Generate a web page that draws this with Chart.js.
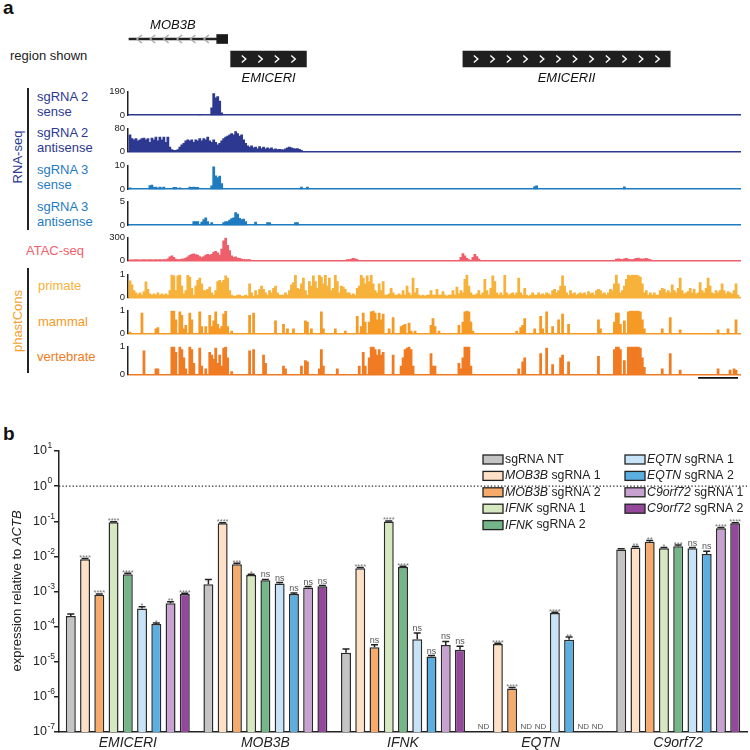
<!DOCTYPE html>
<html><head><meta charset="utf-8">
<script src="https://cdn.jsdelivr.net/npm/chart.js@4.4.1/dist/chart.umd.min.js"></script>
<style>
html,body{margin:0;padding:0;background:#fff;}
body{width:750px;height:750px;position:relative;overflow:hidden;font-family:"Liberation Sans",Arial,Helvetica,sans-serif;color:#222;}
canvas{position:absolute;left:0;display:block;}
.t{position:absolute;white-space:nowrap;font-size:13px;line-height:13px;}
.rot{position:absolute;white-space:nowrap;font-size:13px;line-height:13px;transform:translate(-50%,-50%) rotate(-90deg);}
.vl{position:absolute;width:2px;background:#222;}
</style></head><body>
<div id="labels"></div>
<canvas id="genes" width="750" height="75" style="top:15px"></canvas>
<div id="tracks"></div>
<canvas id="bars" width="750" height="310" style="top:440px"></canvas>
<script>
// ======================= PANEL b DATA =======================
const genes = ['EMICERI', 'MOB3B', 'IFNK', 'EQTN', 'C9orf72'];
const sgTarget = ['', 'MOB3B', 'MOB3B', 'IFNK', 'IFNK', 'EQTN', 'EQTN', 'C9orf72', 'C9orf72'];
const sgSuffix = ['sgRNA NT', 'sgRNA 1', 'sgRNA 2', 'sgRNA 1', 'sgRNA 2', 'sgRNA 1', 'sgRNA 2', 'sgRNA 1', 'sgRNA 2'];
const sgColors = ['#c4c4c4', '#fde0c5', '#f7ab6a', '#d5e8c0', '#74b688', '#c6e3f7', '#5aafe0', '#c7a2d0', '#93489c'];

// expression relative to ACTB, per sgRNA, in gene order (null = ND)
const exprNT      = [2.0e-4, 1.6e-3, 1.8e-5, null,    1.58e-2];
const exprMOB3B1  = [8.3e-3, 8.7e-2, 4.6e-3, 3.2e-5,  1.8e-2];
const exprMOB3B2  = [8.1e-4, 6.0e-3, 2.6e-5, 1.74e-6, 2.6e-2];
const exprIFNK1   = [9.3e-2, 2.95e-3, 9.8e-2, null,   1.7e-2];
const exprIFNK2   = [3.1e-3, 2.1e-3, 5.0e-3, null,    1.95e-2];
const exprEQTN1   = [3.3e-4, 1.7e-3, 4.4e-5, 2.45e-4, 1.7e-2];
const exprEQTN2   = [1.18e-4, 8.5e-4, 1.4e-5, 4.2e-5, 1.17e-2];
const exprC9orf1  = [4.6e-4, 1.3e-3, 3.0e-5, null,    6.3e-2];
const exprC9orf2  = [8.5e-4, 1.4e-3, 2.2e-5, null,    8.7e-2];

// upper error (SEM)
const errNT      = [3e-5, 6e-4, 5e-6, null, 6e-4];
const errMOB3B1  = [4e-4, 4e-3, 2e-4, 1.5e-6, 1.2e-3];
const errMOB3B2  = [4e-5, 4e-4, 4.5e-6, 1e-7, 2.5e-3];
const errIFNK1   = [4e-3, 1.5e-4, 4e-3, null, 8e-4];
const errIFNK2   = [2e-4, 1e-4, 2.5e-4, null, 1.5e-3];
const errEQTN1   = [4e-5, 1e-4, 2.2e-5, 1.2e-5, 8e-4];
const errEQTN2   = [8e-6, 5e-5, 1e-6, 8.5e-6, 2.4e-3];
const errC9orf1  = [5e-5, 8e-5, 8e-6, null, 3e-3];
const errC9orf2  = [4e-5, 7e-5, 5.5e-6, null, 4e-3];

// significance vs sgRNA NT
const sigNT      = ['', '', '', '', ''];
const sigMOB3B1  = ['****', '****', '****', '****', '**'];
const sigMOB3B2  = ['****', '***', 'ns', '****', '**'];
const sigIFNK1   = ['****', '*', '****', '', '*'];
const sigIFNK2   = ['****', 'ns', '****', '', '***'];
const sigEQTN1   = ['*', 'ns', 'ns', '****', 'ns'];
const sigEQTN2   = ['*', 'ns', 'ns', '**', 'ns'];
const sigC9orf1  = ['**', 'ns', 'ns', '', '****'];
const sigC9orf2  = ['****', 'ns', 'ns', '', '****'];

const yExponents = [-7, -6, -5, -4, -3, -2, -1, 0, 1];
const refLineValue = 1;
const ndLabel = 'ND';

// ======================= PANEL a DATA =======================
// positions in 100-bp bins across the shown region; runs = [startBin, v0, v1, ...]
const trackNames = ['sgRNA 2 sense', 'sgRNA 2 antisense', 'sgRNA 3 sense', 'sgRNA 3 antisense', 'ATAC-seq', 'primate', 'mammal', 'vertebrate'];
const trackMax = [190, 80, 10, 5, 300, 1, 1, 1];

const sense2Runs = [[35, 5], [41, 60, 175, 140, 150, 115, 20]];
const anti2Runs = [[0,
  58,45,41,45,37,41,45,47,41,45, 32,47,41,50,37,50,41,50,32,50,
  15,6,3,3,6,15,23,28,37,41, 37,41,32,41,37,45,37,45,41,50,
  37,32,41,32,23,28,37,45,50,54, 58,63,58,70,63,54,58,41,28,19,
  15,19,12,15,9,17,10,15,9,12, 9,12,6,9,6,7,6,5,9,12,
  15,12,10,9,10,7,3]];
const sense3Runs = [[0, 0.6], [10, 1.6, 1.8, 0.8, 0.9, 0.5, 0.9, 0.6, 0.9], [22, 0.8, 0.8], [25, 0.6],
  [30, 0.9, 0.8, 0.9, 0.8, 0.8], [41, 1.5, 9.5, 5.7, 5.0, 5.6, 2.4], [86, 0.9], [89, 0.9], [203, 1.2, 1.5], [248, 1.0]];
const anti3Runs = [[32, 0.8, 0.8, 0.8], [36, 0.7, 1.2, 1.6, 0.8], [41, 0.6],
  [47, 0.6, 0.8, 0.8, 1.1, 1.4, 1.6, 2.7, 2.4, 1.5, 1.2, 1.3, 0.8], [63, 0.7], [69, 0.6, 0.6], [83, 0.6, 0.6]];
const atacRuns = [[0,
  6,7,6,8,6,7,6,8,7,6,8,7,6,9,7,8,7,9,10,
  20,45,60,40,15,10,10,15,20,30,45,65,80,85,75,70,50,35,50,70,80,70,80,110,120,100,70,150,260,300,200,130,60,40,45,30,25,15,10,10,10,8],
  [109, 8, 10, 15, 25, 18, 8], [166, 40, 90, 60, 25, 10], [172, 40, 80, 50, 15],
  [244, 15, 20, 15, 10, 20, 25, 15, 10, 10, 15, 25, 30, 20, 15, 20, 25, 15, 10]];
const primateRuns = [[0,
  0.73,0.55,0.3,0.2,0.12,0.2,0.1,0.25,0.68,0.35, 0.15,0.1,0.15,0.1,0.2,0.1,0.15,0.1,0.15,0.1,
  0.3,1.0,0.95,0.3,0.95,1.0,0.5,0.15,0.3,0.97, 0.9,0.4,0.1,0.5,0.75,0.85,0.6,0.3,0.3,0.35,
  0.45,0.2,0.1,0.3,0.7,0.75,0.65,0.75,0.95,0.85, 0.3,0.1,0.05,0.05,0.1,0.1,0.05,0.05,0.1,0.05,
  0.6,0.2,0.05,0.3,0.1,0.35,0.5,0.35,0.2,0.1, 0.3,0.2,0.4,0.5,0.2,0.1,0.1,0.1,0.2,0.1,
  0.3,0.55,0.65,0.97,0.4,0.35,0.6,0.85,0.3,0.1, 0.7,0.5,0.95,0.7,0.4,0.97,0.9,0.6,0.97,0.5,
  0.85,0.3,0.4,0.97,0.7,0.2,0.5,0.45,0.35,0.2, 0.2,0.1,0.15,0.1,0.4,0.5,0.97,0.85,0.6,0.95,
  0.7,0.97,0.6,0.3,0.2,0.6,0.3,0.7,0.1,0.1, 0.15,0.4,0.2,0.1,0.1,0.15,0.1,0.3,0.1,0.5,
  0.2,0.1,0.85,0.2,0.4,0.1,0.05,0.1,0.05,0.1, 0.1,0.3,0.1,0.1,0.35,0.1,0.1,0.25,0.1,0.05,
  0.1,0.1,0.3,0.1,0.45,0.15,0.3,0.2,0.8,1.0, 0.5,0.2,0.1,0.1,0.15,0.3,0.1,0.2,0.8,0.3,
  0.1,0.4,0.95,0.7,0.2,0.1,0.2,0.1,0.97,0.2, 0.1,0.15,0.2,0.1,0.2,0.85,0.2,0.1,0.4,0.1,
  0.05,0.1,0.2,0.1,0.1,0.2,0.1,0.15,0.1,0.2, 0.15,0.1,0.3,0.35,0.2,0.3,0.5,0.95,0.5,0.2,
  0.1,0.3,0.15,0.2,0.1,0.15,0.2,0.15,0.2,0.1, 0.25,0.15,0.2,0.1,0.3,0.35,0.3,0.15,0.2,0.1,
  0.2,0.35,0.3,0.6,1.0,0.6,0.2,0.3,0.5,0.8, 1.0,0.95,1.0,0.97,1.0,0.95,0.9,0.6,0.2,0.3,
  0.1,0.2,0.1,0.2,0.1,0.1,0.3,0.4,0.35,0.2, 0.3,0.2,0.55,0.3,0.2,0.4,0.85,0.3,0.15,0.2,
  0.25,0.4,0.2,0.35,0.15,0.2,0.65,0.3,0.2,0.4, 0.85,0.5,0.2,0.15,0.3,0.2,0.3,0.6,0.3,0.15,
  0.25,0.2,0.15,0.3,0.6,0.1]];
const mammalRuns = [[0,0.05],[6,0.9],[13,0.2,0.25],[21,1.0,1.0,0.6],[25,0.95,0.8,0.2,0.35],[30,0.9,0.6],[35,0.95,0.3],[38,0.3],
  [40,0.8,0.3,0.55,0.95,0.4,0.2,0.3,0.85,0.97,0.3],[51,0.1],[60,0.8],[62,0.9],[73,0.55],[77,0.4],[79,0.2],[82,0.2],[88,0.55,0.5],[91,0.2],
  [96,0.95,0.2],[103,0.2],[108,0.1],[114,0.75],[116,0.3,0.9,0.5],[120,0.5,0.95,1.0,0.9,0.6,0.9,0.6,0.85],[130,0.2],[132,0.7],
  [136,0.3,0.35,0.4],[140,0.45,0.1],[143,0.1],[151,0.35,0.65,0.3],[155,0.1],[165,0.35],[167,0.5,0.95,1.0,0.95,0.5,0.1],[194,0.1],
  [196,0.25,0.35,0.65],[203,0.2],[206,0.75,0.2],[209,0.95],[212,0.3],[215,0.6],[217,0.85],[220,0.4],[235,0.6,0.2],
  [243,0.5,0.9,0.9,0.4],[248,0.55],[250,0.95,1.0,1.0,0.97,1.0,1.0,0.95,0.6,0.2],[267,0.2],[271,0.7],[276,0.15],[295,0.15],[300,0.2],[304,0.6]];
const vertebrateRuns = [[7,0.85],[13,0.2,0.2],[21,1.0,1.0,0.8],[25,1.0,0.9,0.6,0.2],[30,1.0,0.9,0.4],[35,0.95,0.3],[38,0.2],
  [40,0.8,0.7,0.55,0.95,0.4,0.7,0.3,0.95,1.0,0.6],[51,0.1],[60,0.85],[62,0.9],[67,0.7,0.4],[77,0.3,0.2],[86,0.3],[88,0.5,0.45],
  [95,0.2,0.9,0.3],[104,0.2],[115,0.3],[117,0.8,0.3],[120,0.6,1.0,1.0,0.9,0.7,0.9,0.7,0.8],[132,0.7],[136,0.3,0.6,0.9,0.95,1.0,0.9,0.3],
  [151,0.75,0.3,0.3],[165,0.4,0.2,0.6,1.0,1.0,1.0,0.3],[195,0.2],[197,0.45,0.6],[206,0.75],[209,0.95],[212,0.35],[216,0.6,0.7],[220,0.45],
  [235,0.65],[243,0.9,1.0,1.0,0.9],[248,0.5],[250,1.0,1.0,1.0,1.0,1.0,1.0,0.95,0.6,0.25],[267,0.2],[271,0.75],[276,0.15],[295,0.2],
  [301,0.15],[303,0.2,0.15]];

// gene models (bins)
const geneNames = ['MOB3B', 'EMICERI', 'EMICERII'];
const geneRowOf = ['MOB3B', 'EMICER', 'EMICER'];
const geneStart = [-0.5, 50.5, 167];
const geneEnd = [43.5, 88.5, 271];
const geneStrand = ['-', '+', '+'];
const mob3bExon = [43.5, 49];
const geneRows = ['MOB3B', 'EMICER'];
const regionMin = -1, regionMax = 306;
const scaleBarStart = 285, scaleBarLength = 20; // 2 kb

// ======================= RENDER =======================
const FF = '"Liberation Sans", Arial, Helvetica, sans-serif';
Chart.defaults.font.family = FF;
Chart.defaults.color = '#222';
Chart.defaults.animation = false;

// ---- static labels of panel a / b (text) ----
const lab = document.getElementById('labels');
function addText(txt, left, cy, color, opts) {
  opts = opts || {};
  const d = document.createElement('div');
  d.className = opts.rot ? 'rot' : 't';
  d.textContent = txt;
  const size = opts.size || 13;
  d.style.fontSize = size + 'px'; d.style.lineHeight = size + 'px';
  d.style.color = color || '#222';
  if (opts.bold) d.style.fontWeight = 'bold';
  if (opts.rot) { d.style.left = left + 'px'; d.style.top = cy + 'px'; }
  else { d.style.left = left + 'px'; d.style.top = (cy - 0.52 * size) + 'px'; }
  lab.appendChild(d);
}
function addVLine(x, y0, y1) {
  const d = document.createElement('div'); d.className = 'vl';
  d.style.left = (x - 1) + 'px'; d.style.top = y0 + 'px'; d.style.height = (y1 - y0) + 'px';
  lab.appendChild(d);
}
const navy = '#2d3990', blue = '#1f7bc0', atacCol = '#ef5f6b', primCol = '#f6b23a', mamCol = '#f59a25', vertCol = '#f07b22';
addText('a', 3, 8, '#111', {size: 19, bold: true});
addText('b', 3, 434, '#111', {size: 19, bold: true});
addText('region shown', 10, 56, '#222');
addText('RNA-seq', 17, 157, navy, {rot: true});
addVLine(28, 88, 230);
addText('sgRNA 2', 37, 97, navy); addText('sense', 37, 112, navy);
addText('sgRNA 2', 37, 133, navy); addText('antisense', 37, 148, navy);
addText('sgRNA 3', 37, 170, blue); addText('sense', 37, 184.5, blue);
addText('sgRNA 3', 37, 207, blue); addText('antisense', 37, 221.5, blue);
addText('ATAC-seq', 26, 250.5, atacCol);
addText('phastCons', 17, 321, '#f5a02e', {rot: true});
addVLine(28, 268, 373);
addText('primate', 38, 285.5, primCol);
addText('mammal', 38, 321.5, mamCol);
addText('vertebrate', 37, 357, vertCol);

// ---- gene model chart ----
const geneDeco = {
  id: 'geneDeco',
  afterDatasetsDraw(chart) {
    const ctx = chart.ctx, xs = chart.scales.x, ys = chart.scales.y;
    geneNames.forEach((g, k) => {
      const x0 = xs.getPixelForValue(geneStart[k]), x1 = xs.getPixelForValue(geneEnd[k]);
      const yc = ys.getPixelForValue(geneRows.indexOf(geneRowOf[k]));
      const minus = geneStrand[k] === '-';
      const sp = minus ? 13.4 : 16.5;
      const len = x1 - x0, n = Math.floor(len / sp);
      const s0 = x0 + (len - (n - 1) * sp) / 2;
      ctx.save();
      ctx.lineWidth = 1.4;
      ctx.strokeStyle = minus ? '#a8a8a8' : '#ffffff';
      for (let j = 0; j < n; j++) {
        const cx = s0 + j * sp;
        ctx.beginPath();
        if (minus) { ctx.moveTo(cx + 2.5, yc - 4); ctx.lineTo(cx - 2.5, yc); ctx.lineTo(cx + 2.5, yc + 4); }
        else { ctx.moveTo(cx - 2, yc - 3.5); ctx.lineTo(cx + 2, yc); ctx.lineTo(cx - 2, yc + 3.5); }
        ctx.stroke();
      }
      ctx.fillStyle = '#111';
      ctx.font = 'italic 13px ' + FF;
      ctx.textAlign = 'center'; ctx.textBaseline = 'middle';
      const ly = minus ? yc - 14 : yc + 19.5;
      ctx.fillText(g, (x0 + x1) / 2, ly);
      ctx.restore();
    });
  }
};
new Chart(document.getElementById('genes'), {
  type: 'bar',
  data: {
    labels: geneRows,
    datasets: [
      {data: [{x: [geneStart[0], geneEnd[0]], y: geneRowOf[0]}], backgroundColor: '#222', barThickness: 1.6, grouped: false},
      {data: [{x: mob3bExon, y: geneRowOf[0]}], backgroundColor: '#1a1a1a', barThickness: 9, grouped: false},
      {data: [{x: [geneStart[1], geneEnd[1]], y: geneRowOf[1]}, {x: [geneStart[2], geneEnd[2]], y: geneRowOf[2]}], backgroundColor: '#1f1f1f', barThickness: 16, grouped: false}
    ]
  },
  options: {
    indexAxis: 'y', responsive: false, animation: false,
    layout: {padding: {left: 128, right: 10, top: 14, bottom: 21}},
    plugins: {legend: {display: false}, tooltip: {enabled: false}},
    scales: {
      x: {type: 'linear', min: regionMin, max: regionMax, display: false},
      y: {type: 'category', labels: geneRows, display: false, offset: true}
    }
  },
  plugins: [geneDeco]
});

// ---- track charts ----
function expandRuns(runs) {
  const pts = [];
  runs.forEach(r => { for (let j = 1; j < r.length; j++) pts.push({x: r[0] + j - 1, y: r[j]}); });
  return pts;
}
const trackRuns = [sense2Runs, anti2Runs, sense3Runs, anti3Runs, atacRuns, primateRuns, mammalRuns, vertebrateRuns];
const trackColors = [navy, navy, blue, blue, atacCol, primCol, mamCol, vertCol];
const trackTop = [89, 126, 162.5, 199, 235, 271.5, 307.5, 343.5];
const trackBase = [121, 157, 194, 230.5, 266, 302.5, 338, 374];
const scaleBarPlugin = {
  id: 'scaleBar',
  afterDraw(chart) {
    const xs = chart.scales.x, ctx = chart.ctx, y = chart.chartArea.bottom + 3.5;
    ctx.save(); ctx.strokeStyle = '#111'; ctx.lineWidth = 1.8;
    ctx.beginPath(); ctx.moveTo(xs.getPixelForValue(scaleBarStart), y); ctx.lineTo(xs.getPixelForValue(scaleBarStart + scaleBarLength), y); ctx.stroke();
    ctx.restore();
  }
};
const tracksDiv = document.getElementById('tracks');
trackRuns.forEach((runs, k) => {
  const last = k === trackRuns.length - 1;
  const padB = last ? 8 : 3;
  const cv = document.createElement('canvas');
  const top = trackTop[k] - 6;
  const h = Math.round(trackBase[k] - trackTop[k] + 6 + padB);
  cv.width = 750; cv.height = h; cv.style.top = top + 'px';
  tracksDiv.appendChild(cv);
  const max = trackMax[k];
  new Chart(cv, {
    type: 'bar',
    data: {datasets: [{label: trackNames[k], data: expandRuns(runs), backgroundColor: trackColors[k], borderWidth: 0, barThickness: 2.1, grouped: false}]},
    options: {
      responsive: false, animation: false,
      layout: {padding: {left: 0, right: 10, top: 6, bottom: padB}},
      plugins: {legend: {display: false}, tooltip: {enabled: false}},
      scales: {
        x: {type: 'linear', min: regionMin, max: regionMax, offset: false,
            ticks: {display: false}, grid: {display: false, drawTicks: false},
            border: {display: true, color: trackColors[k], width: 1.6},
            afterFit(s) { s.height = 0; }},
        y: {type: 'linear', min: 0, max: max,
            ticks: {display: true, padding: 3, font: {size: 9.5}, color: '#222', autoSkip: false, callback: v => String(v)},
            grid: {display: false, drawTicks: false},
            border: {display: true, color: '#222', width: 1.5},
            afterBuildTicks(s) { s.ticks = [{value: 0}, {value: max}]; },
            afterFit(s) { s.width = 128; }}
      }
    },
    plugins: last ? [scaleBarPlugin] : []
  });
});

// ---- panel b bar chart ----
const sgExpr = [exprNT, exprMOB3B1, exprMOB3B2, exprIFNK1, exprIFNK2, exprEQTN1, exprEQTN2, exprC9orf1, exprC9orf2];
const sgErr = [errNT, errMOB3B1, errMOB3B2, errIFNK1, errIFNK2, errEQTN1, errEQTN2, errC9orf1, errC9orf2];
const sgSig = [sigNT, sigMOB3B1, sigMOB3B2, sigIFNK1, sigIFNK2, sigEQTN1, sigEQTN2, sigC9orf1, sigC9orf2];

const refLinePlugin = {
  id: 'refLine',
  beforeDatasetsDraw(chart) {
    const ctx = chart.ctx, a = chart.chartArea, y = chart.scales.y.getPixelForValue(refLineValue);
    ctx.save(); ctx.strokeStyle = '#222'; ctx.lineWidth = 1.3; ctx.setLineDash([1.3, 2.1]);
    ctx.beginPath(); ctx.moveTo(a.left, y); ctx.lineTo(a.right, y); ctx.stroke(); ctx.restore();
  }
};
const barAnnotPlugin = {
  id: 'barAnnot',
  afterDatasetsDraw(chart) {
    const ctx = chart.ctx, ys = chart.scales.y, a = chart.chartArea;
    chart.data.datasets.forEach((ds, di) => {
      const meta = chart.getDatasetMeta(di);
      meta.data.forEach((bar, i) => {
        const v = ds.data[i], x = bar.x;
        ctx.save();
        if (v == null) {
          ctx.font = '8px ' + FF; ctx.fillStyle = '#555'; ctx.textAlign = 'center'; ctx.textBaseline = 'middle';
          ctx.fillText(ndLabel, x, a.bottom - 5.5);
          ctx.restore(); return;
        }
        const e = ds.errors[i] || 0;
        const yTop = ys.getPixelForValue(v), yE = ys.getPixelForValue(v + e);
        ctx.strokeStyle = '#222'; ctx.lineWidth = 1.5;
        ctx.beginPath(); ctx.moveTo(x, yTop); ctx.lineTo(x, yE); ctx.moveTo(x - 3.5, yE); ctx.lineTo(x + 3.5, yE); ctx.stroke();
        const s = ds.sig[i];
        if (s) {
          ctx.textAlign = 'center'; ctx.textBaseline = 'alphabetic';
          if (s === 'ns') { ctx.font = '9px ' + FF; ctx.fillStyle = '#555'; ctx.fillText(s, x, yE - 2); }
          else { ctx.font = '7.5px ' + FF; ctx.fillStyle = '#777'; ctx.fillText(s, x, yE + 1.5); }
        }
        ctx.restore();
      });
    });
  }
};
const yLabelsPlugin = {
  id: 'yLabels',
  afterDraw(chart) {
    const ctx = chart.ctx, ys = chart.scales.y;
    ctx.save(); ctx.fillStyle = '#222'; ctx.textBaseline = 'middle'; ctx.textAlign = 'left';
    yExponents.forEach(e => {
      const y = ys.getPixelForValue(Math.pow(10, e));
      ctx.font = '12.5px ' + FF; ctx.fillText('10', 33, y);
      const w = ctx.measureText('10').width;
      ctx.font = '8.5px ' + FF; ctx.fillText(String(e), 33 + w + 0.5, y - 5);
    });
    // axis title with italic ACTB
    ctx.translate(17, 151); ctx.rotate(-Math.PI / 2);
    const t1 = 'expression relative to ', t2 = 'ACTB';
    ctx.font = '13px ' + FF; const w1 = ctx.measureText(t1).width;
    ctx.font = 'italic 13px ' + FF; const w2 = ctx.measureText(t2).width;
    let x = -(w1 + w2) / 2;
    ctx.font = '13px ' + FF; ctx.fillText(t1, x, 0);
    ctx.font = 'italic 13px ' + FF; ctx.fillText(t2, x + w1, 0);
    ctx.restore();
  }
};
const legendPlugin = {
  id: 'customLegend',
  afterDraw(chart) {
    const ctx = chart.ctx;
    ctx.save();
    sgTarget.forEach((t, k) => {
      const col = k < 5 ? 0 : 1, row = k < 5 ? k : k - 5;
      const sx = col === 0 ? 483 : 625, cy = 19.5 + row * 16.4;
      ctx.fillStyle = sgColors[k]; ctx.fillRect(sx, cy - 4.5, 20, 9);
      ctx.strokeStyle = '#222'; ctx.lineWidth = 1.3; ctx.strokeRect(sx, cy - 4.5, 20, 9);
      let x = sx + 22;
      ctx.fillStyle = '#222'; ctx.textBaseline = 'middle'; ctx.textAlign = 'left';
      if (t) {
        ctx.font = 'italic 12.3px ' + FF; ctx.fillText(t, x, cy); x += ctx.measureText(t).width;
        ctx.font = '12.3px ' + FF; ctx.fillText(' ' + sgSuffix[k], x, cy);
      } else { ctx.font = '12.3px ' + FF; ctx.fillText(sgSuffix[k], x, cy); }
    });
    ctx.restore();
  }
};

new Chart(document.getElementById('bars'), {
  type: 'bar',
  data: {
    labels: genes,
    datasets: sgExpr.map((vals, k) => ({
      label: (sgTarget[k] ? sgTarget[k] + ' ' : '') + sgSuffix[k],
      data: vals, errors: sgErr[k], sig: sgSig[k],
      backgroundColor: sgColors[k], borderColor: '#2a2a2a', borderWidth: 1.5,
      categoryPercentage: 0.932, barPercentage: 0.70
    }))
  },
  options: {
    responsive: false, animation: false,
    layout: {padding: {left: 0, right: 3, top: 11, bottom: 0}},
    plugins: {legend: {display: false}, tooltip: {enabled: false}},
    scales: {
      x: {type: 'category', offset: true, grid: {display: false, drawTicks: false},
          border: {display: true, color: '#222', width: 1.5},
          ticks: {font: {size: 14, style: 'italic'}, color: '#222', padding: 3, maxRotation: 0},
          afterFit(s) { s.height = 18; }},
      y: {type: 'logarithmic', min: 1e-7, max: 10,
          grid: {display: true, drawOnChartArea: false, drawTicks: true, tickLength: 5, color: '#222', lineWidth: 1.5},
          border: {display: true, color: '#222', width: 1.5},
          ticks: {callback: () => '', padding: 0},
          afterBuildTicks(s) { s.ticks = yExponents.map(e => ({value: Math.pow(10, e)})); },
          afterFit(s) { s.width = 59; }}
    }
  },
  plugins: [refLinePlugin, barAnnotPlugin, yLabelsPlugin, legendPlugin]
});
</script>
</body></html>
